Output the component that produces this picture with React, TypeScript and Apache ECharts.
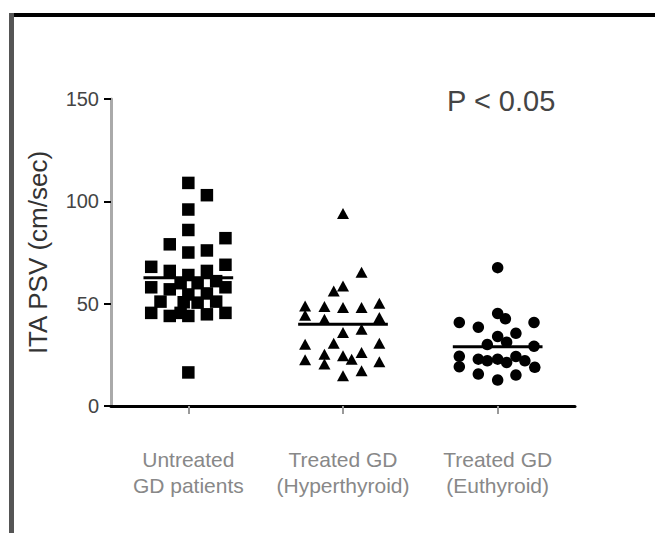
import React, { useEffect, useRef } from "react";
import * as echarts from "echarts";

// Category labels (x axis)
const categories = ["Untreated\nGD patients", "Treated GD\n(Hyperthyroid)", "Treated GD\n(Euthyroid)"];

// Y axis ticks
const yTicks = [0, 50, 100, 150];

// Each point: [horizontal jitter within the group, ITA PSV value in cm/sec]
const untreated: [number, number][] = [
  [0, 109], [0.12, 103], [0, 96], [0, 86], [-0.12, 79], [0.24, 82], [0, 75], [0.12, 76],
  [0.24, 69], [-0.24, 68], [-0.12, 66], [0.12, 66], [0, 64], [-0.24, 58], [-0.05, 60],
  [0.06, 60], [0.18, 61], [0.24, 58], [-0.12, 57], [0.12, 55], [0, 54.5], [-0.18, 51],
  [-0.03, 50.7], [0.06, 50.5], [0.18, 51], [-0.24, 45.5], [-0.12, 44], [-0.05, 45.5],
  [0, 44], [0.12, 44.8], [0.24, 45.5], [0, 16.4],
];
const treatedHyper: [number, number][] = [
  [0, 94], [0.12, 65.4], [0, 58.6], [-0.06, 56.2], [-0.245, 48.9], [-0.12, 48.6], [0, 48.1],
  [0.12, 48.1], [0.235, 50.2], [-0.245, 44.3], [-0.12, 42.4], [0.235, 43.2], [0.12, 37.5],
  [0, 35.9], [-0.245, 30.2], [-0.06, 30.7], [0.235, 30.7], [0.12, 26.2], [-0.245, 22.6],
  [-0.12, 25.3], [-0.12, 20.5], [0, 24.5], [0.056, 22.9], [0.235, 21.6], [0.12, 17.2], [0, 14.8],
];
const treatedEu: [number, number][] = [
  [0, 67.6], [0, 45.2], [0.05, 42.6], [-0.248, 40.8], [-0.125, 38.5], [0.235, 40.8], [0, 34],
  [0.118, 35.5], [-0.067, 30], [0.058, 31.2], [0.235, 29.2], [-0.248, 24.3], [-0.248, 19.2],
  [-0.125, 22.9], [-0.067, 22.1], [0, 22.9], [0.058, 21.3], [0.118, 24.2], [0.176, 22.1],
  [0.24, 18.9], [-0.125, 15.6], [0, 12.7], [0.118, 15.1],
];
const groups = [untreated, treatedHyper, treatedEu];

// Group means (horizontal bars)
const means = [62.7, 40, 29];

const symbols = ["rect", "triangle", "circle"];

export default function App() {
  const ref = useRef<HTMLDivElement>(null);
  useEffect(() => {
    if (!ref.current) return;
    const chart = echarts.init(ref.current, null, { renderer: "svg" });
    const font = "'Liberation Sans', Arial, sans-serif";
    const half = 0.29;
    const symbolSizes: any[] = [12.5, [12, 11], 11.5];

    const scatterSeries = groups.map((g, i) => ({
      type: "scatter",
      xAxisIndex: 1,
      symbol: symbols[i],
      symbolSize: symbolSizes[i],
      itemStyle: { color: "#000", opacity: 1 },
      data: g.map(([o, v]) => [i + o, v]),
      z: 2,
    }));
    const meanSeries = means.map((m, i) => ({
      type: "line",
      xAxisIndex: 1,
      symbol: "none",
      lineStyle: { color: "#000", width: 3 },
      data: [[i - half, m], [i + half, m]],
      z: 3,
    }));

    chart.setOption({
      animation: false,
      backgroundColor: "#fff",
      grid: { left: 111, right: 80, top: 99, bottom: 127 },
      xAxis: [
        {
          type: "category",
          data: categories,
          boundaryGap: true,
          axisLine: { onZero: false, lineStyle: { color: "#000", width: 3 } },
          axisTick: { show: true, interval: 0, alignWithLabel: true, length: 8, lineStyle: { color: "#999", width: 2 } },
          axisLabel: { interval: 0, color: "#888", fontFamily: font, fontSize: 21, lineHeight: 26, margin: 40 },
          splitLine: { show: false },
          z: 4,
        },
        { type: "value", min: -0.5, max: 2.5, show: false, splitLine: { show: false } },
      ],
      yAxis: {
        type: "value",
        min: yTicks[0],
        max: yTicks[yTicks.length - 1],
        interval: yTicks[1] - yTicks[0],
        name: "ITA PSV (cm/sec)",
        nameLocation: "middle",
        nameRotate: 90,
        nameGap: 60,
        nameTextStyle: { color: "#333", fontFamily: font, fontSize: 26 },
        axisLine: { show: true, onZero: false, lineStyle: { color: "#aaa", width: 3 } },
        axisTick: { show: true, length: 7, lineStyle: { color: "#000", width: 2 } },
        axisLabel: { color: "#444", fontFamily: font, fontSize: 20, margin: 12 },
        splitLine: { show: false },
      },
      graphic: [
        { type: "rect", shape: { x: 9, y: 13, width: 646, height: 4 }, style: { fill: "#000" } },
        { type: "rect", shape: { x: 9, y: 13, width: 5, height: 520 }, style: { fill: "#555" } },
        {
          type: "text",
          x: 447,
          y: 101,
          style: {
            text: "P < 0.05",
            fill: "#444",
            font: `29px ${font}`,
            textAlign: "left",
            textVerticalAlign: "middle",
          },
        },
      ],
      series: [...scatterSeries, ...meanSeries],
    });
    return () => chart.dispose();
  }, []);
  return <div ref={ref} style={{ position: "fixed", left: 0, top: 0, width: 655, height: 533 }} />;
}
